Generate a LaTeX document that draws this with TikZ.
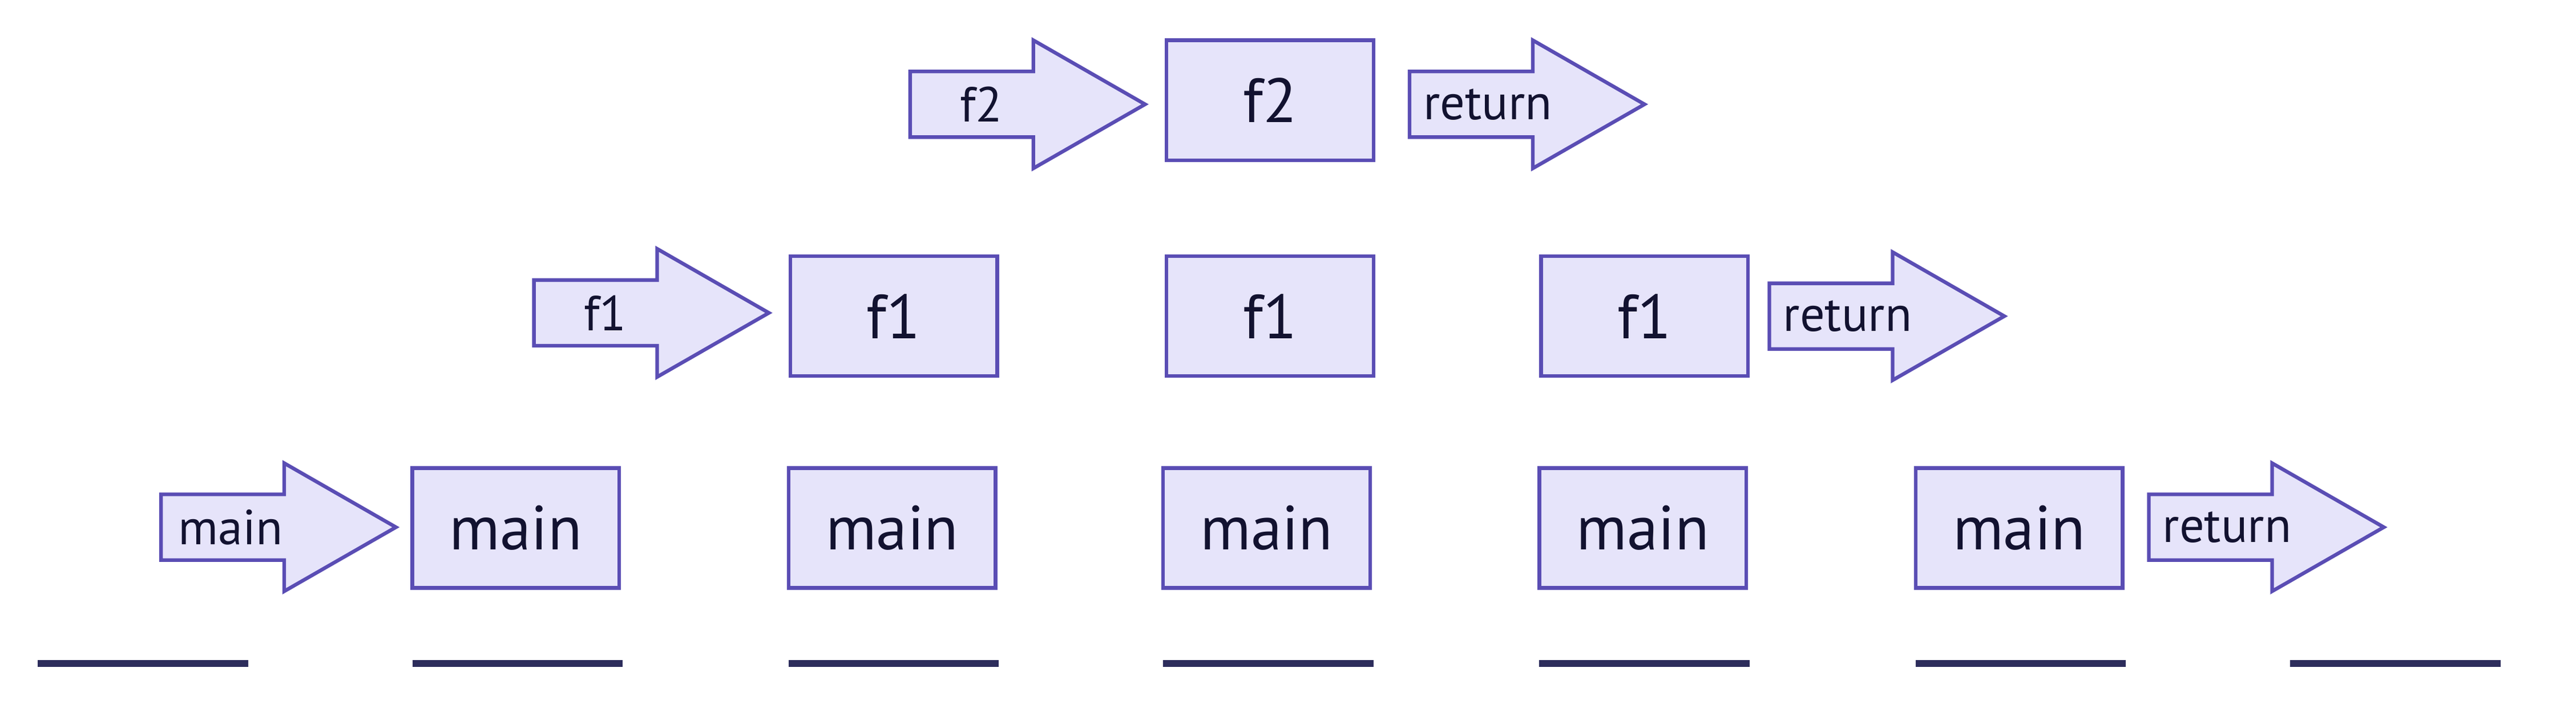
\documentclass[tikz,border=0pt]{standalone}
\usepackage{fontspec}
\setmainfont{PT Sans}
\definecolor{fillc}{HTML}{E6E4FA}
\definecolor{edgec}{HTML}{5A4DB4}
\definecolor{linec}{HTML}{2D2D5C}
\definecolor{textc}{HTML}{121230}
\newcommand\callarrow[5]{%
  \draw[arrshape] (#2,#3-20) -- (#2+75,#3-20) -- (#2+75,#3-39) -- (#2+143,#3)
    -- (#2+75,#3+39) -- (#2+75,#3+20) -- (#2,#3+20) -- cycle;
  \node[alab] (#1) at (#2+#5,#3) {#4};}
\begin{document}
\begin{tikzpicture}[x=0.5pt,y=-0.5pt,
  framebox/.style={draw=edgec, fill=fillc, line width=1.1pt, minimum width=63pt,
    minimum height=36.5pt, inner sep=0pt, text=textc, font=\fontsize{19}{19}\selectfont},
  arrshape/.style={draw=edgec, fill=fillc, line width=1.1pt, line join=miter},
  alab/.style={anchor=west, inner sep=0pt, text=textc, font=\fontsize{15}{15}\selectfont},
  ground/.style={draw=linec, line width=2pt}]
\useasboundingbox (0,0) rectangle (1568,428.6);
% bottom row
\callarrow{amain}{98}{321}{main}{10}
\node[framebox] (m1) at (314,321.5) {main};
\node[framebox] (m2) at (543,321.5) {main};
\node[framebox] (m3) at (771,321.5) {main};
\node[framebox] (m4) at (1000,321.5) {main};
\node[framebox] (m5) at (1229,321.5) {main};
\callarrow{aret3}{1308}{321}{return}{8}
% middle row
\callarrow{af1}{325}{190.5}{f1}{30}
\node[framebox] (f1a) at (544,192.5) {f1};
\node[framebox] (f1b) at (773,192.5) {f1};
\node[framebox] (f1c) at (1001,192.5) {f1};
\callarrow{aret2}{1077}{192.5}{return}{8}
% top row
\callarrow{af2}{554}{63.5}{f2}{30}
\node[framebox] (f2) at (773,61) {f2};
\callarrow{aret1}{858}{63.5}{return}{8}
% ground lines
\foreach \xa in {23,251,480,708,937,1166,1394}
  \draw[ground] (\xa,404) -- (\xa+128,404);
\end{tikzpicture}
\end{document}
